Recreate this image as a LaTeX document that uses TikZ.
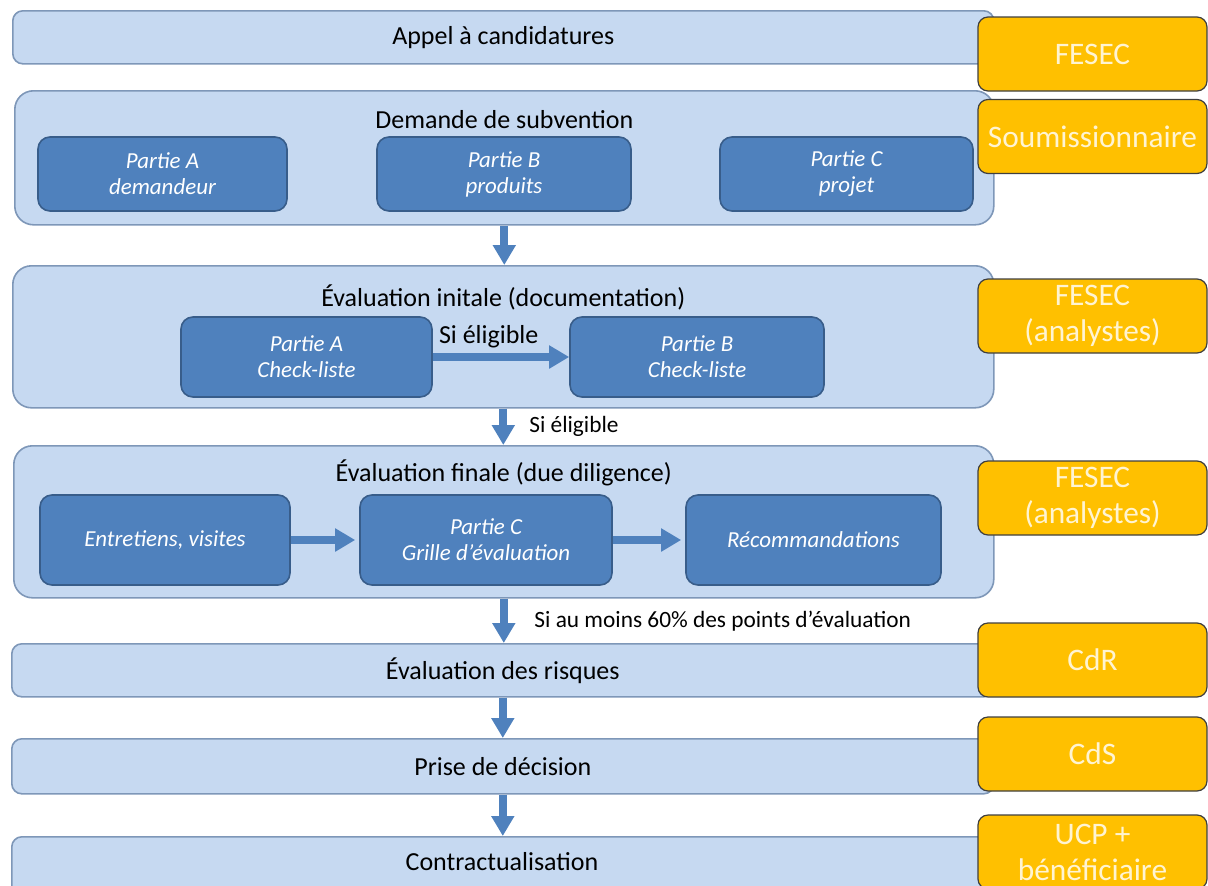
\documentclass[tikz,border=0pt]{standalone}
\usepackage{fontspec}
\setmainfont{Carlito}
\usetikzlibrary{arrows.meta,positioning,calc}

\definecolor{bandfill}{HTML}{C6D9F1}
\definecolor{bandline}{HTML}{7E97B8}
\definecolor{partfill}{HTML}{4F81BD}
\definecolor{partline}{HTML}{385D8A}
\definecolor{actorfill}{HTML}{FFC000}
\definecolor{actorline}{HTML}{3F3F3F}
\definecolor{actortext}{HTML}{FFF4D2}

\newcommand{\upx}{0.75pt}

\tikzset{
    stage/.style={
        rectangle, draw=bandline, fill=bandfill,
        line width=1.2pt, rounded corners=7.5pt,
        font=\fontsize{19.5}{23}\selectfont,
        anchor=north west, align=center
    },
    bigstage/.style={
        stage, rounded corners=14pt
    },
    stagetitle/.style={
        font=\fontsize{19.5}{23}\selectfont,
        inner sep=0pt
    },
    part/.style={
        rectangle, draw=partline, fill=partfill,
        line width=1.2pt, rounded corners=9pt,
        text=white, align=center,
        font=\fontsize{17.2}{19.5}\selectfont\itshape
    },
    actor/.style={
        rectangle, draw=actorline, fill=actorfill,
        line width=0.9pt, rounded corners=7.5pt,
        text=actortext, align=center,
        font=\fontsize{23.5}{27}\selectfont,
        minimum width=229*\upx, minimum height=74*\upx
    },
    flow/.style={
        draw=partfill, line width=6pt,
        -{Triangle[width=16.5pt,length=15pt]}
    },
    note/.style={
        font=\fontsize{17.5}{21}\selectfont,
        inner sep=0pt
    }
}

\begin{document}
\begin{tikzpicture}[x=\upx, y=-\upx]
    \useasboundingbox (0,0) rectangle (1208,886);

    % bandes des etapes
    \node[stage, minimum width=981*\upx, minimum height=53*\upx] (appel) at (12,10) {Appel à candidatures};
    \node[bigstage, minimum width=979*\upx, minimum height=134*\upx] (demande) at (14,90) {};
    \node[bigstage, minimum width=981*\upx, minimum height=142*\upx] (evalinit) at (12,265) {};
    \node[bigstage, minimum width=980*\upx, minimum height=152*\upx] (evalfin) at (13,445) {};
    \node[stage, minimum width=982*\upx, minimum height=53*\upx] (risques) at (11,643) {Évaluation des risques};
    \node[stage, minimum width=982*\upx, minimum height=55*\upx] (decision) at (11,738) {Prise de décision};
    \node[stage, minimum width=982*\upx, minimum height=62*\upx] (contrat) at (11,836) {};
    \node[stagetitle] (contrattitle) at (502,862) {Contractualisation};

    \node[stagetitle] (demandetitle) at ($(demande.north)+(0,30)$) {Demande de subvention};
    \node[stagetitle] (evalinittitle) at ($(evalinit.north)+(0,32)$) {Évaluation initale (documentation)};
    \node[stagetitle] (evalfintitle) at ($(evalfin.north)+(0,28)$) {Évaluation finale (due diligence)};

    % parties
    \node[part, minimum width=249*\upx, minimum height=74*\upx] (partA) at (162.5,174) {Partie A\\demandeur};
    \node[part, minimum width=254*\upx, minimum height=74*\upx] (partB) at (504,174) {Partie B\\produits};
    \node[part, minimum width=253*\upx, minimum height=74*\upx] (partC) at (846.5,174) {Partie C\\projet};

    \node[part, minimum width=251*\upx, minimum height=80*\upx] (checkA) at (306.5,357) {Partie A\\Check-liste};
    \node[part, minimum width=254*\upx, minimum height=80*\upx] (checkB) at (697,357) {Partie B\\Check-liste};

    \node[part, minimum width=250*\upx, minimum height=90*\upx] (entretiens) at (165,540) {Entretiens, visites};
    \node[part, minimum width=252*\upx, minimum height=90*\upx] (grille) at (486,540) {Partie C\\Grille d’évaluation};
    \node[part, minimum width=255*\upx, minimum height=90*\upx] (recomm) at (813.5,540) {Récommandations};

    % responsables
    \node[actor] (fesec) at (1092.5,54) {FESEC};
    \node[actor] (soumis) at (1092.5,136.5) {Soumissionnaire};
    \node[actor] (analystesA) at (1092.5,316) {FESEC\\(analystes)};
    \node[actor] (analystesB) at (1092.5,498) {FESEC\\(analystes)};
    \node[actor] (cdr) at (1092.5,660) {CdR};
    \node[actor] (cds) at (1092.5,754) {CdS};
    \node[actor] (ucp) at (1092.5,852) {UCP +\\bénéficiaire};

    % fleches
    \draw[flow] (demande.south) -- (demande.south |- evalinit.north);
    \draw[flow] (evalinit.south) -- (evalinit.south |- evalfin.north)
        node[note, anchor=west, pos=0.5, xshift=16.5pt] {Si éligible};
    \draw[flow] (evalfin.south) -- (evalfin.south |- risques.north)
        node[note, anchor=west, pos=0.5, xshift=20pt] {Si au moins 60\% des points d’évaluation};
    \draw[flow] (risques.south) -- (risques.south |- decision.north);
    \draw[flow] (decision.south) -- (decision.south |- contrat.north);

    \draw[flow] (checkA.east) -- (checkA.east -| checkB.west)
        node[stagetitle, above=4pt, pos=0.41] {Si éligible};
    \draw[flow, shorten >=3pt] (entretiens) -- (grille);
    \draw[flow, shorten >=3pt] (grille) -- (recomm);
\end{tikzpicture}
\end{document}
